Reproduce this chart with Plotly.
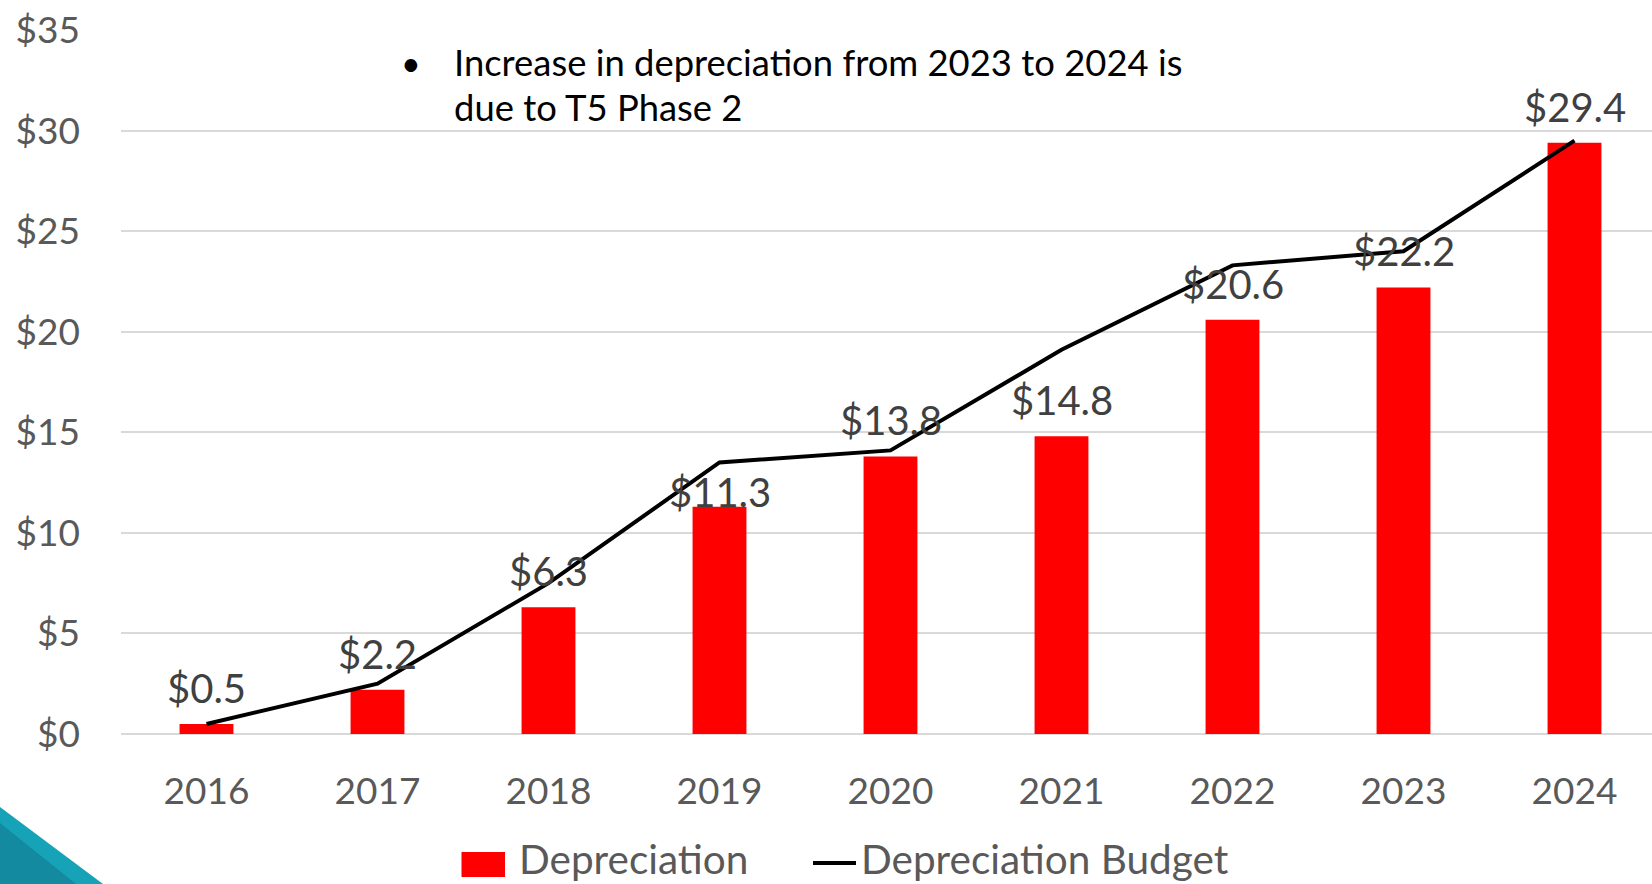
import plotly.graph_objects as go

years = ["2016", "2017", "2018", "2019", "2020", "2021", "2022", "2023", "2024"]
depreciation = [0.5, 2.2, 6.3, 11.3, 13.8, 14.8, 20.6, 22.2, 29.4]
budget = [0.5, 2.5, 7.5, 13.5, 14.1, 19.1, 23.3, 24.0, 29.5]
y_ticks = [0, 5, 10, 15, 20, 25, 30, 35]
y_tick_text = ["$" + str(v) for v in y_ticks]
labels = ["$" + f"{v:.1f}" for v in depreciation]

W, H = 1652, 884
L, R, T, B = 121, 0, 29.5, 150
PW = W - L - R
PH = H - T - B
FONT = "Lato"


def fx(px):
    return (px - L) / PW


def fy(py):
    return (H - B - py) / PH


fig = go.Figure()
fig.add_trace(go.Bar(
    x=years, y=depreciation, name="Depreciation",
    marker=dict(color="#FF0000", line=dict(width=0)),
    width=0.315, showlegend=False,
))
fig.add_trace(go.Scatter(
    x=years, y=budget, name="Depreciation Budget", mode="lines",
    line=dict(color="#000000", width=4), showlegend=False,
))

annotations = []
for i, (v, t) in enumerate(zip(depreciation, labels)):
    shift = 10
    if years[i] == "2019":
        shift = -11  # this label sits right on its bar in the original
    annotations.append(dict(
        xref="x", yref="y", x=i, y=v, text=t, showarrow=False,
        xanchor="center", yanchor="bottom",
        yshift=shift, font=dict(family=FONT, size=40, color="#404040"),
    ))

# bullet note
annotations.append(dict(
    xref="paper", yref="paper", x=fx(411), y=fy(62), text="•", showarrow=False,
    xanchor="center", yanchor="middle", font=dict(family=FONT, size=34, color="#000000"),
))
annotations.append(dict(
    xref="paper", yref="paper", x=fx(452), y=fy(62),
    text="Increase in depreciation from 2023 to 2024 is", showarrow=False,
    xanchor="left", yanchor="middle", font=dict(family=FONT, size=36.4, color="#000000"),
))
annotations.append(dict(
    xref="paper", yref="paper", x=fx(452), y=fy(107),
    text="due to T5 Phase 2", showarrow=False,
    xanchor="left", yanchor="middle", font=dict(family=FONT, size=36.4, color="#000000"),
))

# legend (manual)
annotations.append(dict(
    xref="paper", yref="paper", x=fx(517), y=fy(859), text="Depreciation", showarrow=False,
    xanchor="left", yanchor="middle", font=dict(family=FONT, size=40.5, color="#595959"),
))
annotations.append(dict(
    xref="paper", yref="paper", x=fx(859), y=fy(859), text="Depreciation Budget", showarrow=False,
    xanchor="left", yanchor="middle", font=dict(family=FONT, size=40.5, color="#595959"),
))

shapes = [
    dict(type="rect", xref="paper", yref="paper", x0=fx(461.5), x1=fx(505), y0=fy(877), y1=fy(852),
         fillcolor="#FF0000", line=dict(width=0)),
    dict(type="line", xref="paper", yref="paper", x0=fx(813), x1=fx(856), y0=fy(863), y1=fy(863),
         line=dict(color="#000000", width=4)),
    # decorative teal corner
    dict(type="path", xref="paper", yref="paper",
         path=f"M {fx(0)},{fy(807)} L {fx(103)},{fy(884)} L {fx(0)},{fy(884)} Z",
         fillcolor="#17A3B7", line=dict(width=0)),
    dict(type="path", xref="paper", yref="paper",
         path=f"M {fx(0)},{fy(823)} L {fx(76)},{fy(884)} L {fx(0)},{fy(884)} Z",
         fillcolor="#138AA0", line=dict(width=0)),
]

fig.update_layout(
    width=W, height=H,
    margin=dict(l=L, r=R, t=T, b=B, pad=0),
    plot_bgcolor="#FFFFFF", paper_bgcolor="#FFFFFF",
    showlegend=False,
    annotations=annotations, shapes=shapes,
    font=dict(family=FONT, size=37, color="#595959"),
)
fig.update_xaxes(
    type="category", range=[-0.5, 8.5 + (PW / 171.0 - 9)],
    showgrid=False, showline=False, zeroline=False, ticks="",
    tickfont=dict(family=FONT, size=37, color="#595959"),
    ticklabelstandoff=32,
)
fig.update_yaxes(
    range=[0, 35], tickvals=y_ticks, ticktext=y_tick_text,
    showgrid=True, gridcolor="#D9D9D9", gridwidth=1.5,
    zeroline=True, zerolinecolor="#D9D9D9", zerolinewidth=1.5,
    showline=False, ticks="",
    tickfont=dict(family=FONT, size=37, color="#595959"),
    ticklabelstandoff=40,
)

fig.write_html("out.html", config={"displayModeBar": False})
